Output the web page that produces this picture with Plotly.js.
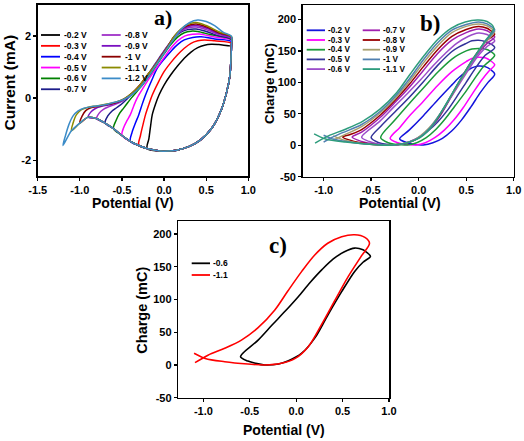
<!DOCTYPE html>
<html><head><meta charset="utf-8">
<script src="https://cdn.plot.ly/plotly-3.0.1.min.js"></script>
<style>html,body{margin:0;padding:0;background:#fff}#chart{width:524px;height:441px}</style>
</head><body><div id="chart"></div>
<script>
// ================= Panel a) : current vs potential =================
const aLimits = [-0.2,-0.3,-0.4,-0.5,-0.6,-0.7,-0.8,-0.9,-1.0,-1.1,-1.2];
const aLabels = ['-0.2 V','-0.3 V','-0.4 V','-0.5 V','-0.6 V','-0.7 V','-0.8 V','-0.9 V','-1 V','-1.1 V','-1.2 V'];
// shared cathodic (return) branch, from +0.8 V down to -1.2 V
const aCathodicX = [0.8,0.795,0.78,0.74,0.68,0.57,0.43,0.3,0.15,0.05,-0.05,-0.2,-0.3,-0.4,-0.5,-0.6,-0.7,-0.8,-0.9,-1.0,-1.1,-1.2];
const aCathodicY = [1.70,1.3,0.69,0.16,-0.37,-0.95,-1.35,-1.55,-1.67,-1.70,-1.70,-1.62,-1.52,-1.39,-1.2,-0.98,-0.8,-0.66,-0.61,-0.8,-1.05,-1.52];
// anodic (forward) branches, from each negative limit up to +0.8 V
const aAnodicX02 = [-0.2,-0.18,-0.16,-0.14,-0.1,-0.06,0.0,0.08,0.16,0.24,0.32,0.4,0.48,0.56,0.65,0.8];
const aAnodicY02 = [-1.62,-1.3,-0.9,-0.53,-0.18,0.1,0.42,0.75,1.03,1.28,1.48,1.62,1.7,1.73,1.72,1.68];
const aAnodicX03 = [-0.3,-0.28,-0.25,-0.22,-0.18,-0.14,-0.07,0.0,0.08,0.16,0.24,0.32,0.4,0.48,0.6,0.8];
const aAnodicY03 = [-1.52,-1.2,-0.85,-0.53,-0.2,0.1,0.5,0.85,1.14,1.39,1.6,1.76,1.84,1.87,1.84,1.77];
const aAnodicX04 = [-0.4,-0.38,-0.34,-0.3,-0.26,-0.22,-0.15,-0.08,0.0,0.08,0.16,0.24,0.34,0.44,0.6,0.8];
const aAnodicY04 = [-1.39,-1.1,-0.8,-0.53,-0.2,0.1,0.55,0.96,1.25,1.5,1.72,1.87,1.95,1.97,1.9,1.82];
const aAnodicX05 = [-0.5,-0.48,-0.44,-0.4,-0.36,-0.32,-0.25,-0.17,-0.08,0.0,0.08,0.16,0.25,0.34,0.42,0.6,0.8];
const aAnodicY05 = [-1.2,-0.95,-0.72,-0.53,-0.25,0.0,0.32,0.66,1.0,1.3,1.6,1.84,2.0,2.05,2.06,1.96,1.86];
const aAnodicX06 = [-0.6,-0.57,-0.53,-0.48,-0.43,-0.39,-0.32,-0.24,-0.16,-0.08,0.0,0.08,0.16,0.24,0.32,0.4,0.55,0.8];
const aAnodicY06 = [-0.98,-0.72,-0.5,-0.32,-0.14,0.0,0.22,0.48,0.78,1.1,1.42,1.72,1.96,2.1,2.15,2.14,2.04,1.88];
const aAnodicX07 = [-0.7,-0.67,-0.62,-0.56,-0.5,-0.43,-0.36,-0.28,-0.2,-0.12,-0.04,0.04,0.12,0.2,0.28,0.38,0.5,0.65,0.8];
const aAnodicY07 = [-0.8,-0.58,-0.42,-0.3,-0.18,0.0,0.18,0.42,0.72,1.04,1.36,1.67,1.94,2.12,2.2,2.22,2.14,2.0,1.9];
const aAnodicX08 = [-0.8,-0.77,-0.72,-0.66,-0.58,-0.5,-0.45,-0.37,-0.29,-0.2,-0.12,-0.04,0.04,0.12,0.2,0.28,0.38,0.5,0.65,0.8];
const aAnodicY08 = [-0.66,-0.48,-0.36,-0.28,-0.2,-0.1,0.0,0.17,0.4,0.72,1.02,1.34,1.66,1.95,2.15,2.25,2.28,2.2,2.04,1.92];
const aAnodicX09 = [-0.9,-0.87,-0.82,-0.75,-0.66,-0.56,-0.46,-0.38,-0.3,-0.2,-0.12,-0.04,0.04,0.12,0.2,0.28,0.38,0.5,0.65,0.8];
const aAnodicY09 = [-0.61,-0.45,-0.34,-0.27,-0.22,-0.15,-0.02,0.15,0.37,0.72,1.0,1.33,1.65,1.97,2.18,2.29,2.33,2.25,2.07,1.94];
const aAnodicX10 = [-1.0,-0.97,-0.93,-0.87,-0.78,-0.66,-0.56,-0.47,-0.38,-0.3,-0.2,-0.12,-0.04,0.04,0.12,0.2,0.28,0.38,0.5,0.65,0.8];
const aAnodicY10 = [-0.8,-0.56,-0.4,-0.31,-0.26,-0.2,-0.13,-0.02,0.16,0.38,0.73,1.0,1.32,1.64,1.98,2.2,2.33,2.38,2.29,2.1,1.96];
const aAnodicX11 = [-1.1,-1.08,-1.04,-0.98,-0.9,-0.8,-0.68,-0.57,-0.48,-0.39,-0.3,-0.2,-0.12,-0.04,0.04,0.12,0.2,0.28,0.38,0.5,0.65,0.8];
const aAnodicY11 = [-1.05,-0.8,-0.53,-0.37,-0.29,-0.25,-0.19,-0.12,-0.03,0.14,0.37,0.74,1.0,1.31,1.63,1.98,2.22,2.37,2.43,2.33,2.13,1.97];
const aAnodicX12 = [-1.2,-1.17,-1.13,-1.08,-1.02,-0.95,-0.85,-0.72,-0.6,-0.5,-0.4,-0.28,-0.2,-0.12,-0.04,0.04,0.12,0.2,0.3,0.4,0.5,0.6,0.7,0.8];
const aAnodicY12 = [-1.52,-1.2,-0.85,-0.57,-0.41,-0.32,-0.27,-0.22,-0.14,-0.07,0.08,0.36,0.64,0.96,1.28,1.6,1.92,2.2,2.42,2.51,2.46,2.33,2.12,1.99];
const aXTicks = [-1.5,-1.0,-0.5,0.0,0.5,1.0];
const aXTickText = ['-1.5','-1.0','-0.5','0.0','0.5','1.0'];
const aYTicks = [-2,0,2];
const aYTickText = ['-2','0','2'];

// ================= Panel b) : charge vs potential =================
const bLabels = ['-0.2 V','-0.3 V','-0.4 V','-0.5 V','-0.6 V','-0.7 V','-0.8 V','-0.9 V','-1 V','-1.1 V'];
const bLowX02 = [-0.2,-0.12,-0.03,0.05,0.15,0.25,0.35,0.45,0.55,0.65,0.73,0.8];
const bLowY02 = [10,4,1,0.5,4,11,23,40,61,84,100,113];
const bUpX02 = [0.8,0.76,0.7,0.63,0.56,0.5,0.42,0.35,0.2,0.05,-0.1,-0.2];
const bUpY02 = [113,120,125,126,123,117,107,96,72,47,24,10];
const bLowX03 = [-0.3,-0.22,-0.12,-0.03,0.07,0.17,0.27,0.37,0.47,0.57,0.67,0.74,0.8];
const bLowY03 = [11,4,1,0.5,4,12,24,40,60,83,105,118,128];
const bUpX03 = [0.8,0.76,0.7,0.63,0.56,0.5,0.42,0.35,0.2,0.05,-0.1,-0.2,-0.3];
const bUpY03 = [128,134,139,140,138,133,125,117,95,70,46,28,11];
const bLowX04 = [-0.4,-0.32,-0.22,-0.12,-0.02,0.08,0.18,0.28,0.38,0.48,0.58,0.68,0.8];
const bLowY04 = [12,4,1,0.5,4,12,25,42,62,82,104,125,143];
const bUpX04 = [0.8,0.76,0.7,0.63,0.56,0.5,0.42,0.35,0.2,0.05,-0.1,-0.25,-0.4];
const bUpY04 = [143,149,153,154,153,150,144,137,116,91,66,40,12];
const bLowX05 = [-0.5,-0.42,-0.32,-0.2,-0.1,0.0,0.1,0.2,0.3,0.4,0.5,0.6,0.7,0.8];
const bLowY05 = [12,4,1,1,5,12,23,37,55,77,100,123,143,155];
const bUpX05 = [0.8,0.76,0.7,0.63,0.56,0.5,0.42,0.35,0.2,0.05,-0.1,-0.25,-0.4,-0.5];
const bUpY05 = [155,161,165,167,166,162,156,149,127,101,76,53,30,12];
const bLowX06 = [-0.6,-0.52,-0.44,-0.34,-0.19,-0.09,0.06,0.2,0.34,0.49,0.63,0.72,0.8];
const bLowY06 = [12.7,6,2.6,0,1.5,6,18,41,76,112,143,157,166];
const bUpX06 = [0.8,0.76,0.72,0.63,0.52,0.4,0.28,0.15,0.02,-0.12,-0.26,-0.41,-0.6];
const bUpY06 = [166,172,176,178.6,173,162,146,126,104,82,61,38,12.7];
const bLowX07 = [-0.7,-0.6,-0.48,-0.35,-0.2,-0.08,0.05,0.2,0.34,0.48,0.62,0.72,0.8];
const bLowY07 = [13,6,2,0,1.5,6,17,42,77,113,145,162,172];
const bUpX07 = [0.8,0.76,0.72,0.63,0.5,0.35,0.2,0.05,-0.1,-0.25,-0.4,-0.6,-0.7];
const bUpY07 = [172,178,182,184.7,179,167,146,119,92,68,45,21,13];
const bLowX08 = [-0.8,-0.68,-0.52,-0.35,-0.2,-0.06,0.07,0.2,0.34,0.48,0.62,0.72,0.8];
const bLowY08 = [13,6,2,0,1.5,7,20,43,78,115,148,167,177];
const bUpX08 = [0.8,0.76,0.72,0.63,0.5,0.35,0.2,0.05,-0.1,-0.25,-0.4,-0.6,-0.72,-0.8];
const bUpY08 = [177,182,186,188.8,184,173,152,125,96.5,71,48.5,25,17,13];
const bLowX09 = [-0.9,-0.78,-0.6,-0.35,-0.18,-0.04,0.1,0.24,0.4,0.55,0.68,0.8];
const bLowY09 = [15,8,3,0,2,9,26,53,93,130,160,181];
const bUpX09 = [0.8,0.76,0.72,0.63,0.5,0.35,0.2,0.05,-0.1,-0.25,-0.4,-0.6,-0.76,-0.9];
const bUpY09 = [181,186,190,192.9,189,179,158,131,101,74,52,29.5,18,8];
const bLowX10 = [-1.0,-0.88,-0.68,-0.45,-0.3,-0.15,-0.02,0.12,0.26,0.41,0.56,0.7,0.8];
const bLowY10 = [16,9,4,1,0,3,10,28,58,97,133,165,184];
const bUpX10 = [0.8,0.76,0.72,0.63,0.5,0.35,0.2,0.05,-0.1,-0.25,-0.4,-0.6,-0.8,-0.92,-1.0];
const bUpY10 = [184,189,193,196,192,183,163,136,105,77,54.5,33,20,12,5];
const bLowX11 = [-1.1,-0.98,-0.77,-0.52,-0.34,-0.16,-0.01,0.13,0.27,0.42,0.56,0.7,0.79];
const bLowY11 = [18,10,5,1.5,0,2.5,10,28,61,99.5,135,166,186];
const bUpX11 = [0.79,0.74,0.63,0.49,0.34,0.2,0.06,-0.09,-0.23,-0.41,-0.59,-0.77,-0.95,-1.09];
const bUpY11 = [186,195,199,196,186,168,143,113,84,57,38,25.5,15,3.5];
const bXTicks = [-1.0,-0.5,0.0,0.5,1.0];
const bXTickText = ['-1.0','-0.5','0.0','0.5','1.0'];
const bYTicks = [-50,0,50,100,150,200];
const bYTickText = ['-50','0','50','100','150','200'];

// ================= Panel c) : two of the charge loops =================
const cLabels = ['-0.6','-1.1'];

// ---------------- styles (kept apart from the data) ----------------
const aColors = ['#000000','#ff0000','#0000ff','#ff00ff','#008000','#1c1c8a','#a030c8','#7a10c0','#8b0000','#8b8b00','#3c8cc8'];
const bColors = ['#1414dc','#ff00ff','#1a9a3a','#333399','#9b4dca','#a020b0','#990000','#a8a070','#5080b0','#2e9c7c'];
const cColors = ['#000000','#ff0000'];
const FONT = 'Liberation Sans, Arial, Helvetica, sans-serif';
const SERIF = 'Liberation Serif, Times New Roman, serif';
const W = 524, H = 441;
const px = v => v / W, py = v => 1 - v / H;
const bold = arr => arr.map(t => '<b>' + t + '</b>');

const aAnodicX = [aAnodicX02,aAnodicX03,aAnodicX04,aAnodicX05,aAnodicX06,aAnodicX07,aAnodicX08,aAnodicX09,aAnodicX10,aAnodicX11,aAnodicX12];
const aAnodicY = [aAnodicY02,aAnodicY03,aAnodicY04,aAnodicY05,aAnodicY06,aAnodicY07,aAnodicY08,aAnodicY09,aAnodicY10,aAnodicY11,aAnodicY12];
const bLowX = [bLowX02,bLowX03,bLowX04,bLowX05,bLowX06,bLowX07,bLowX08,bLowX09,bLowX10,bLowX11];
const bLowY = [bLowY02,bLowY03,bLowY04,bLowY05,bLowY06,bLowY07,bLowY08,bLowY09,bLowY10,bLowY11];
const bUpX = [bUpX02,bUpX03,bUpX04,bUpX05,bUpX06,bUpX07,bUpX08,bUpX09,bUpX10,bUpX11];
const bUpY = [bUpY02,bUpY03,bUpY04,bUpY05,bUpY06,bUpY07,bUpY08,bUpY09,bUpY10,bUpY11];

const traces = [];
const lineShape = {shape:'spline', smoothing:0.9};
aLimits.forEach((lim, i) => {
  const idx = aCathodicX.map((x, j) => j).filter(j => aCathodicX[j] >= lim - 1e-9);
  traces.push({
    type:'scatter', mode:'lines', name:aLabels[i], showlegend:false, xaxis:'x', yaxis:'y',
    x: aAnodicX[i].concat(idx.map(j => aCathodicX[j])),
    y: aAnodicY[i].concat(idx.map(j => aCathodicY[j])),
    line: Object.assign({color:aColors[i], width:1.5}, lineShape)
  });
});
bLabels.forEach((lab, i) => {
  traces.push({
    type:'scatter', mode:'lines', name:lab, showlegend:false, xaxis:'x2', yaxis:'y2',
    x: bLowX[i].concat(bUpX[i].slice(1)),
    y: bLowY[i].concat(bUpY[i].slice(1)),
    line: Object.assign({color:bColors[i], width:1.5}, lineShape)
  });
});
const cSrc = [4, 9]; // the -0.6 V and -1.1 V loops of panel b
cSrc.forEach((k, i) => {
  traces.push({
    type:'scatter', mode:'lines', name:cLabels[i], showlegend:false, xaxis:'x3', yaxis:'y3',
    x: bLowX[k].concat(bUpX[k].slice(1)),
    y: bLowY[k].concat(bUpY[k].slice(1)),
    line: Object.assign({color:cColors[i], width:1.6}, lineShape)
  });
});

function axis(extra) {
  return Object.assign({
    showline:true, mirror:true, linecolor:'#000', linewidth:1.5,
    ticks:'outside', ticklen:3, tickwidth:1.3, tickcolor:'#000',
    showgrid:false, zeroline:false, fixedrange:true, automargin:false,
    tickmode:'array',
    tickfont:{family:FONT, size:11, weight:'bold', color:'#000'}
  }, extra);
}

const shapes = [], annotations = [];
function legendBlock(labels, colors, startIdx, count, lineX0, lineX1, textX, y0, dy, size) {
  for (let k = 0; k < count; k++) {
    const i = startIdx + k, y = y0 + dy * k;
    shapes.push({type:'line', xref:'paper', yref:'paper', x0:px(lineX0), x1:px(lineX1), y0:py(y), y1:py(y),
      line:{color:colors[i], width:1.8}});
    annotations.push({xref:'paper', yref:'paper', x:px(textX), y:py(y), xanchor:'left', yanchor:'middle',
      text:'<b>' + labels[i] + '</b>', showarrow:false, font:{family:FONT, size:size, weight:'bold', color:'#000'}});
  }
}
legendBlock(aLabels, aColors, 0, 6, 41, 60, 62, 35, 10.85, 8.5);
legendBlock(aLabels, aColors, 6, 5, 101.7, 120.7, 122.6, 35, 10.85, 8.5);
legendBlock(bLabels, bColors, 0, 5, 306.7, 325, 326, 30.3, 9.7, 8.2);
legendBlock(bLabels, bColors, 5, 5, 362.7, 380, 381, 30.3, 9.7, 8.2);
legendBlock(cLabels, cColors, 0, 2, 191.7, 210, 211, 263.3, 11.7, 8.5);

function label(text, x, y, size, angle, family) {
  annotations.push({xref:'paper', yref:'paper', x:px(x), y:py(y), xanchor:'center', yanchor:'middle',
    text:'<b>' + text + '</b>', showarrow:false, textangle:angle || 0,
    font:{family:family || FONT, size:size, weight:'bold', color:'#000'}});
}
label('a)', 162.5, 17.5, 22, 0, SERIF);
label('b)', 429.5, 23.3, 23, 0, SERIF);
label('c)', 277.5, 245, 23, 0, SERIF);
label('Potential (V)', 132.5, 203, 14);
label('Potential (V)', 399.5, 203, 14);
label('Potential (V)', 284, 429.5, 14);
label('Current (mA)', 8.5, 83, 15.5, -90);
label('Charge (mC)', 269, 84, 13.5, -90);
label('Charge (mC)', 141.7, 310, 14.5, -90);

const layout = {
  width:W, height:H, margin:{l:0, r:0, t:0, b:0},
  paper_bgcolor:'#fff', plot_bgcolor:'#fff', showlegend:false,
  xaxis: axis({domain:[px(37.7), px(248.3)], anchor:'y', range:[-1.5, 1.0], tickvals:aXTicks, ticktext:bold(aXTickText)}),
  yaxis: axis({domain:[py(176), py(4.7)], anchor:'x', range:[-2.5, 3], tickvals:aYTicks, ticktext:bold(aYTickText)}),
  xaxis2: axis({domain:[px(302.7), px(513.7)], anchor:'y2', range:[-1.22, 1.0], tickvals:bXTicks, ticktext:bold(bXTickText)}),
  yaxis2: axis({domain:[py(176.7), py(5)], anchor:'x2', range:[-50, 223], tickvals:bYTicks, ticktext:bold(bYTickText)}),
  xaxis3: axis({domain:[px(178.3), px(389)], anchor:'y3', range:[-1.27, 1.0], tickvals:bXTicks, ticktext:bold(bXTickText)}),
  yaxis3: axis({domain:[py(397.7), py(221)], anchor:'x3', range:[-50, 220], tickvals:bYTicks, ticktext:bold(bYTickText)}),
  shapes: shapes, annotations: annotations
};
Plotly.newPlot('chart', traces, layout, {staticPlot:true, displayModeBar:false});
</script></body></html>
